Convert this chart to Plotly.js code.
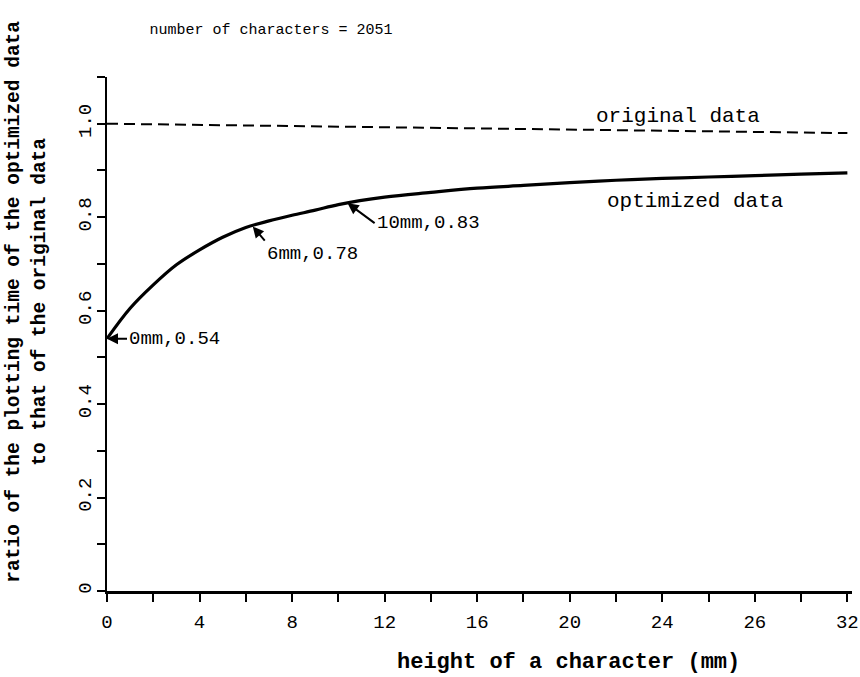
<!DOCTYPE html>
<html>
<head>
<meta charset="utf-8">
<script src="https://cdn.plot.ly/plotly-3.0.1.min.js"></script>
<style>html,body{margin:0;padding:0;background:#fff;}</style>
</head>
<body>
<div id="chart" style="width:860px;height:677px;"></div>
<script>
// ---- data ----
const heightMm = [0, 1, 2, 3, 4, 5, 6, 7, 8, 9, 10, 12, 14, 16, 18, 20, 22, 24, 26, 28, 30, 32];
const optimizedRatio = [0.54, 0.605, 0.655, 0.698, 0.730, 0.757, 0.778, 0.792, 0.804, 0.815, 0.827, 0.843, 0.853, 0.862, 0.868, 0.874, 0.879, 0.883, 0.886, 0.889, 0.892, 0.895];
const originalX = [0, 32];
const originalRatio = [1.0, 0.98];

const xTickVals = [0, 2, 4, 6, 8, 10, 12, 14, 16, 18, 20, 22, 24, 26, 28, 30, 32];
const xTickText = ['0', '', '4', '', '8', '', '12', '', '16', '', '20', '', '24', '', '26', '', '32'];
const yTickVals = [0, 0.1, 0.2, 0.3, 0.4, 0.5, 0.6, 0.7, 0.8, 0.9, 1.0, 1.1];
const yTickText = ['0', '', '0.2', '', '0.4', '', '0.6', '', '0.8', '', '1.0', ''];

const pointLabels = ['0mm,0.54', '6mm,0.78', '10mm,0.83'];
const pointX = [0, 6.3, 10.4];
const pointY = [0.54, 0.78, 0.83];

const titleText = 'number of characters = 2051';
const xTitle = 'height of a character (mm)';
const yTitle = 'ratio of the plotting time of the optimized data<br>to that of the original data';
const seriesLabels = ['original data', 'optimized data'];

// ---- drawing ----
const FONT = '"Liberation Mono", "Courier New", monospace';

const traces = [
  {
    x: originalX, y: originalRatio, mode: 'lines', type: 'scatter',
    line: {color: '#000', width: 2, dash: '11px,6px'}, hoverinfo: 'skip'
  },
  {
    x: heightMm, y: optimizedRatio, mode: 'lines', type: 'scatter',
    line: {color: '#000', width: 3.2, shape: 'spline', smoothing: 1}, hoverinfo: 'skip'
  }
];

const arrowSpecs = [
  {ax: 20, ay: 0, xa: 'left', ya: 'middle'},
  {ax: 12, ay: 14, xa: 'left', ya: 'top'},
  {ax: 27, ay: 20, xa: 'left', ya: 'middle'}
];
const annotations = pointLabels.map((t, i) => ({
  x: pointX[i], y: pointY[i], xref: 'x', yref: 'y', text: t,
  showarrow: true, ax: arrowSpecs[i].ax, ay: arrowSpecs[i].ay,
  xanchor: arrowSpecs[i].xa, yanchor: arrowSpecs[i].ya,
  arrowhead: 2, arrowsize: 1.1, arrowwidth: 2, arrowcolor: '#000',
  font: {family: FONT, size: 19, color: '#000'}
}));

annotations.push({
  x: 24.7, y: 1.015, xref: 'x', yref: 'y', text: seriesLabels[0], showarrow: false,
  font: {family: FONT, size: 21, color: '#000'}
});
annotations.push({
  x: 25.4, y: 0.833, xref: 'x', yref: 'y', text: seriesLabels[1], showarrow: false,
  font: {family: FONT, size: 21, color: '#000'}
});
annotations.push({
  x: 0.62, y: -0.14, xref: 'paper', yref: 'paper', text: '<b>' + xTitle + '</b>', showarrow: false,
  xanchor: 'center', yanchor: 'middle',
  font: {family: FONT, size: 22, color: '#000'}
});
annotations.push({
  x: -0.108, y: 0.562, xref: 'paper', yref: 'paper', text: '<b>' + yTitle + '</b>', showarrow: false,
  textangle: -90, xanchor: 'center', yanchor: 'middle',
  font: {family: FONT, size: 19.5, color: '#000'}
});

const layout = {
  width: 860, height: 677,
  margin: {l: 107, r: 8, t: 77, b: 86},
  paper_bgcolor: '#fff', plot_bgcolor: '#fff',
  showlegend: false,
  title: {
    text: titleText, x: 0.315, xref: 'container', xanchor: 'center',
    y: 0.958, yref: 'container', yanchor: 'middle',
    font: {family: FONT, size: 15, color: '#000'}
  },
  xaxis: {
    range: [0, 32.2], tickmode: 'array', tickvals: xTickVals, ticktext: xTickText,
    ticks: 'outside', ticklen: 8, tickwidth: 2, tickcolor: '#000',
    ticklabeloverflow: 'allow', ticklabelstandoff: 4,
    showline: true, linecolor: '#000', linewidth: 2.5, mirror: false,
    showgrid: false, zeroline: false,
    tickfont: {family: FONT, size: 19, color: '#000'}
  },
  yaxis: {
    range: [0, 1.1], tickmode: 'array', tickvals: yTickVals, ticktext: yTickText,
    tickangle: -90, ticklabelstandoff: -2,
    ticks: 'outside', ticklen: 8, tickwidth: 2, tickcolor: '#000',
    showline: true, linecolor: '#000', linewidth: 2.5, mirror: false,
    showgrid: false, zeroline: false,
    tickfont: {family: FONT, size: 19, color: '#000'}
  },
  annotations: annotations
};

Plotly.newPlot('chart', traces, layout, {staticPlot: true, displayModeBar: false});
</script>
</body>
</html>
